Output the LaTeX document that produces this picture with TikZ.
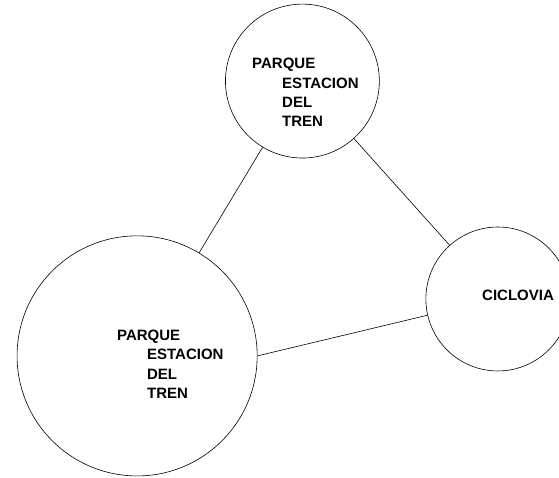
\documentclass[tikz,border=0pt]{standalone}
\usepackage{fontspec}
\setmainfont{Liberation Sans}
\usepackage{tikz}
\usetikzlibrary{shapes.geometric, positioning}

\begin{document}
\begin{tikzpicture}[
  place/.style={draw, circle, line width=0.6pt, inner sep=0pt},
  placetext/.style={inner sep=0pt, align=left, font=\fontsize{15}{19.3}\selectfont\bfseries}
]
\useasboundingbox (0,0) rectangle (19.65,-16.77); % keeps the page size
\node[place, minimum size=5.41cm] (estTop) at (10.63,-2.85) {};
\node[place, minimum size=8.44cm] (estBig) at (4.82,-12.51) {};
\node[place, minimum size=5.06cm] (ciclo) at (17.50,-10.51) {};
\node[placetext, anchor=north west] (estTopTxt) at (8.86,-2.04)
{PARQUE\\\hspace*{30pt}ESTACION\\\hspace*{30pt}DEL\\\hspace*{30pt}TREN};
\node[placetext, anchor=north west] (estBigTxt) at (4.11,-11.60)
{PARQUE\\\hspace*{30pt}ESTACION\\\hspace*{30pt}DEL\\\hspace*{30pt}TREN};
\node[placetext] (cicloTxt) at (18.21,-10.39) {CICLOVIA};
\draw[line width=0.6pt] (estTop) -- (estBig);
\draw[line width=0.6pt] (estTop) -- (ciclo);
\draw[line width=0.6pt] (estBig.east) -- (ciclo.193); % not through the centres
\end{tikzpicture}
\end{document}
